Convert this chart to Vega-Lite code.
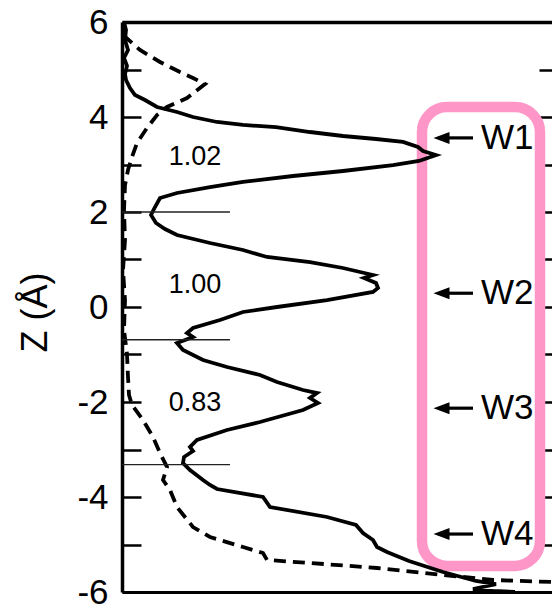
{
  "$schema": "https://vega.github.io/schema/vega-lite/v6.json",
  "width": 430,
  "height": 570,
  "autosize": "none",
  "padding": {"left": 122, "top": 22, "right": 0, "bottom": 16},
  "background": "white",
  "config": {
    "view": {"stroke": null},
    "font": "Liberation Sans",
    "axis": {"grid": false, "zindex": 1}
  },
  "datasets": {
    "solid": [
      {"x":0.02,"z":6.0},{"x":0.04,"z":5.832},{"x":0.03,"z":5.621},{"x":0.06,"z":5.411},{"x":0.02,"z":5.242},{"x":0.05,"z":5.074},{"x":0.03,"z":4.905},{"x":0.04,"z":4.779},{"x":0.08,"z":4.611},{"x":0.13,"z":4.463},{"x":0.23,"z":4.358},{"x":0.35,"z":4.211},{"x":0.55,"z":4.105},{"x":0.71,"z":4.0},{"x":0.95,"z":3.895},{"x":1.21,"z":3.832},{"x":1.54,"z":3.789},{"x":1.88,"z":3.684},{"x":2.21,"z":3.6},{"x":2.54,"z":3.537},{"x":2.81,"z":3.474},{"x":2.96,"z":3.368},{"x":3.01,"z":3.284},{"x":3.14,"z":3.2},{"x":2.97,"z":3.074},{"x":2.71,"z":2.989},{"x":2.21,"z":2.863},{"x":1.71,"z":2.758},{"x":1.21,"z":2.632},{"x":0.88,"z":2.526},{"x":0.55,"z":2.4},{"x":0.38,"z":2.295},{"x":0.33,"z":2.105},{"x":0.29,"z":1.937},{"x":0.34,"z":1.768},{"x":0.43,"z":1.642},{"x":0.55,"z":1.516},{"x":0.88,"z":1.347},{"x":1.21,"z":1.2},{"x":1.31,"z":1.137},{"x":1.45,"z":1.053},{"x":1.88,"z":0.947},{"x":2.21,"z":0.821},{"x":2.38,"z":0.737},{"x":2.51,"z":0.674},{"x":2.42,"z":0.611},{"x":2.54,"z":0.505},{"x":2.56,"z":0.4},{"x":2.51,"z":0.316},{"x":2.05,"z":0.147},{"x":1.55,"z":0.0},{"x":1.21,"z":-0.105},{"x":0.98,"z":-0.274},{"x":0.71,"z":-0.442},{"x":0.65,"z":-0.547},{"x":0.71,"z":-0.632},{"x":0.55,"z":-0.758},{"x":0.61,"z":-0.905},{"x":0.81,"z":-1.116},{"x":1.05,"z":-1.263},{"x":1.38,"z":-1.432},{"x":1.55,"z":-1.579},{"x":1.81,"z":-1.747},{"x":1.95,"z":-1.811},{"x":1.88,"z":-1.916},{"x":1.96,"z":-2.021},{"x":1.81,"z":-2.168},{"x":1.38,"z":-2.421},{"x":1.05,"z":-2.589},{"x":0.75,"z":-2.8},{"x":0.68,"z":-2.947},{"x":0.71,"z":-3.032},{"x":0.62,"z":-3.158},{"x":0.61,"z":-3.284},{"x":0.68,"z":-3.432},{"x":0.81,"z":-3.642},{"x":0.88,"z":-3.747},{"x":0.95,"z":-3.832},{"x":1.41,"z":-4.0},{"x":1.48,"z":-4.211},{"x":2.05,"z":-4.421},{"x":2.34,"z":-4.589},{"x":2.41,"z":-4.758},{"x":2.51,"z":-4.905},{"x":2.55,"z":-5.053},{"x":2.65,"z":-5.158},{"x":2.87,"z":-5.347},{"x":3.21,"z":-5.579},{"x":3.54,"z":-5.768},{"x":3.74,"z":-5.832},{"x":3.51,"z":-5.937},{"x":3.71,"z":-5.979},{"x":3.93,"z":-6.0}
    ],
    "dashed": [
      {"x":0.01,"z":5.726},{"x":0.18,"z":5.411},{"x":0.38,"z":5.158},{"x":0.58,"z":4.947},{"x":0.71,"z":4.821},{"x":0.83,"z":4.695},{"x":0.65,"z":4.4},{"x":0.45,"z":4.211},{"x":0.35,"z":4.042},{"x":0.25,"z":3.768},{"x":0.15,"z":3.453},{"x":0.10,"z":3.158},{"x":0.06,"z":2.884},{"x":0.03,"z":2.568},{"x":0.02,"z":2.042},{"x":0.03,"z":1.411},{"x":0.01,"z":0.779},{"x":0.03,"z":0.147},{"x":0.02,"z":-0.484},{"x":0.05,"z":-0.989},{"x":0.06,"z":-1.474},{"x":0.07,"z":-1.853},{"x":0.10,"z":-2.063},{"x":0.21,"z":-2.379},{"x":0.31,"z":-2.737},{"x":0.38,"z":-3.074},{"x":0.45,"z":-3.368},{"x":0.41,"z":-3.642},{"x":0.48,"z":-3.853},{"x":0.55,"z":-4.211},{"x":0.71,"z":-4.632},{"x":0.88,"z":-4.842},{"x":1.21,"z":-5.053},{"x":1.41,"z":-5.179},{"x":1.45,"z":-5.326},{"x":1.88,"z":-5.389},{"x":2.55,"z":-5.495},{"x":3.21,"z":-5.642},{"x":3.71,"z":-5.747},{"x":4.3,"z":-5.789}
    ],
    "dividers": [
      {"x":0,"x2":1.08,"z":2.0},
      {"x":0,"x2":1.08,"z":-0.69},
      {"x":0,"x2":1.08,"z":-3.32}
    ],
    "values": [
      {"x":0.73,"z":3.16,"label":"1.02"},
      {"x":0.73,"z":0.46,"label":"1.00"},
      {"x":0.73,"z":-2.02,"label":"0.83"}
    ],
    "sites": [
      {"label":"W1","z":3.56,"head":3.195,"s0":3.23,"s1":3.51,"tx":3.59},
      {"label":"W2","z":0.29,"head":3.195,"s0":3.23,"s1":3.51,"tx":3.59},
      {"label":"W3","z":-2.13,"head":3.195,"s0":3.23,"s1":3.51,"tx":3.59},
      {"label":"W4","z":-4.78,"head":3.195,"s0":3.23,"s1":3.51,"tx":3.59}
    ],
    "box": [
      {"x":3.0,"x2":4.18,"z":4.21,"z2":-5.45}
    ]
  },
  "layer": [
    {
      "data": {"name": "box"},
      "mark": {"type": "rect", "filled": false, "color": "#ff96c8", "strokeWidth": 10.5, "cornerRadius": 25},
      "encoding": {
        "x": {"field": "x", "type": "quantitative", "scale": {"domain": [0, 4.3], "nice": false, "zero": false}, "axis": null},
        "x2": {"field": "x2"},
        "y": {"field": "z", "type": "quantitative", "scale": {"domain": [-6, 6], "nice": false, "zero": false}, "axis": null},
        "y2": {"field": "z2"}
      }
    },
    {
      "data": {"name": "solid"},
      "mark": {"type": "line", "color": "black", "strokeWidth": 3.8, "clip": true},
      "encoding": {
        "x": {"field": "x", "type": "quantitative", "scale": {"domain": [0, 4.3], "nice": false, "zero": false},
              "axis": {"orient": "bottom", "domain": true, "domainWidth": 3, "domainColor": "black", "ticks": false, "labels": false, "title": null}},
        "y": {"field": "z", "type": "quantitative", "scale": {"domain": [-6, 6], "nice": false, "zero": false},
              "axis": {"orient": "left", "domain": true, "domainWidth": 3.5, "domainColor": "black",
                       "values": [-6,-5,-4,-3,-2,-1,0,1,2,3,4,5,6],
                       "ticks": true, "tickSize": -19, "tickWidth": 2.5, "tickColor": "black",
                       "labelExpr": "datum.value % 2 === 0 ? '' + datum.value : ''",
                       "labelFont": "Liberation Sans", "labelFontSize": 35, "labelColor": "black", "labelPadding": 33,
                       "labelBaseline": "middle", "labelAlign": "right", "labelFlush": false, "labelOverlap": false,
                       "title": "Z (Å)", "titleFont": "Liberation Sans", "titleFontSize": 36, "titleFontWeight": "normal", "titleColor": "black",
                       "titleX": -87, "titleY": 290, "titleAngle": -90, "titleAlign": "center", "titleBaseline": "middle"}},
        "order": {"value": null}
      }
    },
    {
      "data": {"name": "dashed"},
      "mark": {"type": "line", "color": "black", "strokeWidth": 3.8, "strokeDash": [12, 7], "clip": true},
      "encoding": {
        "x": {"field": "x", "type": "quantitative", "scale": {"domain": [0, 4.3], "nice": false, "zero": false},
              "axis": {"orient": "top", "domain": true, "domainWidth": 3.5, "domainColor": "black", "ticks": false, "labels": false, "title": null}},
        "y": {"field": "z", "type": "quantitative", "scale": {"domain": [-6, 6], "nice": false, "zero": false},
              "axis": {"orient": "right", "domain": false, "values": [-5,-4,-3,-2,-1,0,1,2,3,4,5],
                       "ticks": true, "tickSize": -13, "tickWidth": 2.5, "tickColor": "black", "labels": false, "title": null}},
        "order": {"value": null}
      }
    },
    {
      "data": {"name": "dividers"},
      "mark": {"type": "rule", "color": "#222222", "strokeWidth": 1.3},
      "encoding": {
        "x": {"field": "x", "type": "quantitative", "scale": {"domain": [0, 4.3], "nice": false, "zero": false}, "axis": null},
        "x2": {"field": "x2"},
        "y": {"field": "z", "type": "quantitative", "scale": {"domain": [-6, 6], "nice": false, "zero": false}, "axis": null}
      }
    },
    {
      "data": {"name": "values"},
      "mark": {"type": "text", "font": "Liberation Sans", "fontSize": 27, "color": "black", "align": "center", "baseline": "middle"},
      "encoding": {
        "x": {"field": "x", "type": "quantitative", "scale": {"domain": [0, 4.3], "nice": false, "zero": false}, "axis": null},
        "y": {"field": "z", "type": "quantitative", "scale": {"domain": [-6, 6], "nice": false, "zero": false}, "axis": null},
        "text": {"field": "label"}
      }
    },
    {
      "data": {"name": "sites"},
      "mark": {"type": "rule", "color": "black", "strokeWidth": 3.2},
      "encoding": {
        "x": {"field": "s0", "type": "quantitative", "scale": {"domain": [0, 4.3], "nice": false, "zero": false}, "axis": null},
        "x2": {"field": "s1"},
        "y": {"field": "z", "type": "quantitative", "scale": {"domain": [-6, 6], "nice": false, "zero": false}, "axis": null}
      }
    },
    {
      "data": {"name": "sites"},
      "mark": {"type": "point", "shape": "M -1 0 L 1 -0.75 L 1 0.75 Z", "filled": true, "color": "black", "size": 256, "opacity": 1, "strokeWidth": 0},
      "encoding": {
        "x": {"field": "head", "type": "quantitative", "scale": {"domain": [0, 4.3], "nice": false, "zero": false}, "axis": null},
        "y": {"field": "z", "type": "quantitative", "scale": {"domain": [-6, 6], "nice": false, "zero": false}, "axis": null}
      }
    },
    {
      "data": {"name": "sites"},
      "mark": {"type": "text", "font": "Liberation Sans", "fontSize": 35, "color": "black", "align": "left", "baseline": "middle"},
      "encoding": {
        "x": {"field": "tx", "type": "quantitative", "scale": {"domain": [0, 4.3], "nice": false, "zero": false}, "axis": null},
        "y": {"field": "z", "type": "quantitative", "scale": {"domain": [-6, 6], "nice": false, "zero": false}, "axis": null},
        "text": {"field": "label"}
      }
    }
  ],
  "resolve": {"axis": {"x": "independent", "y": "independent"}}
}
